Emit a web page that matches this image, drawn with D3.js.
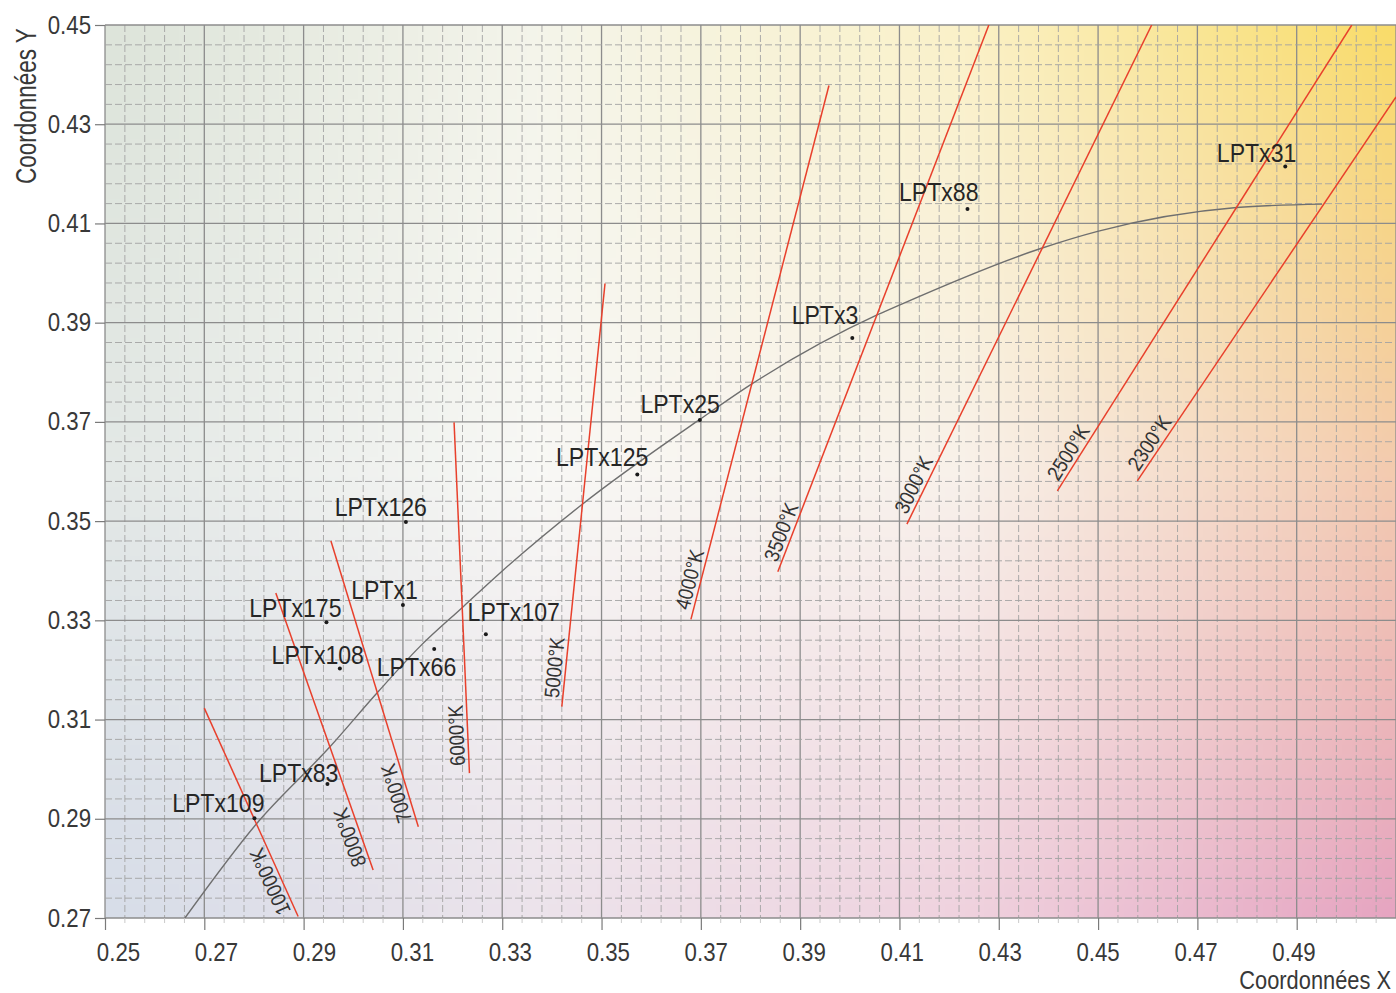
<!DOCTYPE html>
<html>
<head>
<meta charset="utf-8">
<script src="https://cdn.jsdelivr.net/npm/d3@7"></script>
<style>
  body { margin: 0; background: #fff; }
  svg { display: block; font-family: "Liberation Sans", Arial, sans-serif; }
</style>
</head>
<body>
<div class="chart"></div>
<script>
// Planckian locus
const locusX = [0.2661, 0.2806, 0.2953, 0.3050, 0.3134, 0.3222, 0.3295, 0.3460, 0.3698, 0.3802, 0.4056, 0.4101, 0.4383, 0.4499, 0.4779, 0.4951];
const locusY = [0.2700, 0.2891, 0.3045, 0.3156, 0.3247, 0.3328, 0.3395, 0.3533, 0.3705, 0.3776, 0.3916, 0.3936, 0.4049, 0.4084, 0.4132, 0.4139];

// iso-temperature lines (bottom end -> top end)
const isoLabels = ['10000°K', '8000°K', '7000°K', '6000°K', '5000°K', '4000°K', '3500°K', '3000°K', '2500°K', '2300°K'];
const isoBottomX = [0.2889, 0.3040, 0.3131, 0.3234, 0.3420, 0.3680, 0.3855, 0.4115, 0.4418, 0.4579];
const isoBottomY = [0.2703, 0.2797, 0.2884, 0.2992, 0.3126, 0.3302, 0.3398, 0.3494, 0.3561, 0.3581];
const isoTopX = [0.2700, 0.2844, 0.2955, 0.3203, 0.3507, 0.3958, 0.4280, 0.4608, 0.5011, 0.5100];
const isoTopY = [0.3123, 0.3355, 0.3460, 0.3699, 0.3979, 0.4378, 0.4500, 0.4500, 0.4500, 0.4355];

// measured lamps
const lampNames = ['LPTx31', 'LPTx88', 'LPTx3', 'LPTx25', 'LPTx125', 'LPTx126', 'LPTx1', 'LPTx175', 'LPTx108', 'LPTx66', 'LPTx107', 'LPTx83', 'LPTx109'];
const lampX = [0.4877, 0.4237, 0.4005, 0.3698, 0.3572, 0.3106, 0.3100, 0.2946, 0.2973, 0.3163, 0.3267, 0.2948, 0.2801];
const lampY = [0.4215, 0.4129, 0.3869, 0.3704, 0.3594, 0.3498, 0.3331, 0.3296, 0.3203, 0.3242, 0.3272, 0.2970, 0.2901];

// axis ticks
const xTicks = [0.25, 0.27, 0.29, 0.31, 0.33, 0.35, 0.37, 0.39, 0.41, 0.43, 0.45, 0.47, 0.49];
const yTicks = [0.27, 0.29, 0.31, 0.33, 0.35, 0.37, 0.39, 0.41, 0.43, 0.45];

// where each lamp label sits relative to its dot (text end, baseline), px
const labelOffset = {
  LPTx31: [11, -4], LPTx88: [11, -8], LPTx3: [6, -14], LPTx25: [20, -7],
  LPTx125: [11, -8], LPTx126: [21, -6], LPTx1: [15, -6], LPTx175: [15, -5],
  LPTx108: [24, -4], LPTx66: [22, 27], LPTx107: [74, -13], LPTx83: [11, -2], LPTx109: [10, -6]
};

// background colour field (rows top/middle/bottom, columns left -> right)
const bgRows = [
  ['#dde4da', '#f4f4ea', '#faf1c8', '#f9dc6a'],
  ['#e3e8e6', '#f8f8f5', '#f8f1ea', '#f3cbb0'],
  ['#d7dde8', '#ece3eb', '#efd2de', '#e6a5c1']
];

const margin = { top: 25, right: 0, bottom: 75, left: 105 };
const width = 1396 - margin.left - margin.right;
const height = 993 - margin.top - margin.bottom;

const svg = d3.select('.chart').append('svg')
  .attr('width', width + margin.left + margin.right)
  .attr('height', height + margin.top + margin.bottom);

const group = svg.append('g')
  .attr('transform', 'translate(' + margin.left + ',' + margin.top + ')');

const xScale = d3.scaleLinear().domain([0.25, 0.51]).range([0, width]);
const yScale = d3.scaleLinear().domain([0.27, 0.45]).range([height, 0]);

// background gradient, painted on a small canvas and stretched
(function () {
  const cw = 130, ch = 90;
  const canvas = document.createElement('canvas');
  canvas.width = cw; canvas.height = ch;
  const ctx = canvas.getContext('2d');
  const img = ctx.createImageData(cw, ch);
  const rows = bgRows.map(r => r.map(c => d3.rgb(c)));
  const nc = rows[0].length - 1, nr = rows.length - 1;
  for (let j = 0; j < ch; j++) {
    const v = j / (ch - 1) * nr;
    const r0 = Math.min(Math.floor(v), nr - 1), tv = v - r0;
    for (let i = 0; i < cw; i++) {
      const u = i / (cw - 1) * nc;
      const c0 = Math.min(Math.floor(u), nc - 1), tu = u - c0;
      const a = rows[r0][c0], b = rows[r0][c0 + 1], c = rows[r0 + 1][c0], d = rows[r0 + 1][c0 + 1];
      const k = (j * cw + i) * 4;
      ['r', 'g', 'b'].forEach((key, n) => {
        const top = a[key] * (1 - tu) + b[key] * tu;
        const bot = c[key] * (1 - tu) + d[key] * tu;
        img.data[k + n] = top * (1 - tv) + bot * tv;
      });
      img.data[k + 3] = 255;
    }
  }
  ctx.putImageData(img, 0, 0);
  group.append('image')
    .attr('href', canvas.toDataURL())
    .attr('width', width).attr('height', height)
    .attr('preserveAspectRatio', 'none');
})();

// grid: dashed every 0.004, solid every 0.02
const xGrid = d3.range(66).map(i => 0.25 + i * 0.004);
const yGrid = d3.range(46).map(i => 0.27 + i * 0.004);

group.append('g').selectAll('line').data(xGrid).join('line')
  .attr('x1', d => xScale(d)).attr('x2', d => xScale(d))
  .attr('y1', 0).attr('y2', height)
  .attr('stroke', (d, i) => i % 5 === 0 ? '#8c8c8c' : '#a3a3a3')
  .attr('stroke-width', (d, i) => i % 5 === 0 ? 1.3 : 0.9)
  .attr('stroke-dasharray', (d, i) => i % 5 === 0 ? null : '7,3');

group.append('g').selectAll('line').data(yGrid).join('line')
  .attr('y1', d => yScale(d)).attr('y2', d => yScale(d))
  .attr('x1', 0).attr('x2', width)
  .attr('stroke', (d, i) => i % 5 === 0 ? '#8c8c8c' : '#a3a3a3')
  .attr('stroke-width', (d, i) => i % 5 === 0 ? 1.3 : 0.9)
  .attr('stroke-dasharray', (d, i) => i % 5 === 0 ? null : '7,3');

// small minor ticks under the x axis
group.append('g').selectAll('line').data(xGrid.filter((d, i) => i % 5 !== 0)).join('line')
  .attr('x1', d => xScale(d)).attr('x2', d => xScale(d))
  .attr('y1', height).attr('y2', height + 5)
  .attr('stroke', '#c4c4c4').attr('stroke-width', 0.9);

// axes
const xAxis = d3.axisBottom(xScale).tickValues(xTicks).tickFormat(d3.format('.2f'))
  .tickSize(12).tickPadding(13);
const xAxisGroup = group.append('g').attr('class', 'x-axis axis')
  .attr('transform', 'translate(0,' + height + ')').call(xAxis);

const yAxis = d3.axisLeft(yScale).tickValues(yTicks).tickFormat(d3.format('.2f'))
  .tickSize(10).tickPadding(4);
const yAxisGroup = group.append('g').attr('class', 'y-axis axis').call(yAxis);

[xAxisGroup, yAxisGroup].forEach(g => {
  g.select('.domain').remove();
  g.selectAll('.tick line').attr('stroke', '#7a7a7a').attr('stroke-width', 1.2);
  g.selectAll('.tick text').attr('font-size', 25).attr('fill', '#383838')
    .attr('font-family', '"Liberation Sans", Arial, sans-serif');
});
// labels in the original drift slightly left of their ticks toward the right end
xAxisGroup.selectAll('.tick text')
  .attr('transform', (d, i) => 'translate(' + (13 - i * 1.35) + ',0) scale(0.89,1)');
yAxisGroup.selectAll('.tick text')
  .attr('x', -14 / 0.89).attr('transform', 'scale(0.89,1)');

// axis titles
svg.append('text')
  .attr('transform', 'translate(1391,989) scale(0.84,1)')
  .attr('text-anchor', 'end').attr('font-size', 26).attr('fill', '#383838')
  .text('Coordonnées X');

svg.append('text')
  .attr('transform', 'translate(36,184) rotate(-90) scale(0.75,1)')
  .attr('text-anchor', 'start').attr('font-size', 30).attr('fill', '#383838')
  .text('Coordonnées Y');

// clip for the lines
svg.append('defs').append('clipPath').attr('id', 'plot-clip')
  .append('rect').attr('width', width).attr('height', height);

const plot = group.append('g').attr('clip-path', 'url(#plot-clip)');

// Planckian locus
const locus = locusX.map((x, i) => ({ x, y: locusY[i] }));
plot.append('path').datum(locus)
  .attr('d', d3.line().x(d => xScale(d.x)).y(d => yScale(d.y)).curve(d3.curveMonotoneX))
  .attr('fill', 'none').attr('stroke', '#6f6f6f').attr('stroke-width', 1.4);

// iso-temperature lines
const iso = isoLabels.map((label, i) => ({
  label, x1: isoBottomX[i], y1: isoBottomY[i], x2: isoTopX[i], y2: isoTopY[i]
}));

plot.selectAll('.iso').data(iso).join('line').attr('class', 'iso')
  .attr('x1', d => xScale(d.x1)).attr('y1', d => yScale(d.y1))
  .attr('x2', d => xScale(d.x2)).attr('y2', d => yScale(d.y2))
  .attr('stroke', '#e8402c').attr('stroke-width', 1.5);

group.selectAll('.iso-label').data(iso).join('text').attr('class', 'iso-label')
  .attr('transform', d => {
    const px = xScale(d.x1), py = yScale(d.y1);
    const a = Math.atan2(yScale(d.y2) - py, xScale(d.x2) - px) * 180 / Math.PI;
    return 'translate(' + px + ',' + py + ') rotate(' + a + ') scale(0.88,1)';
  })
  .attr('x', 9).attr('y', -4)
  .attr('font-size', 21).attr('fill', '#333')
  .text(d => d.label);

// lamps
const lamps = lampNames.map((name, i) => ({ name, x: lampX[i], y: lampY[i] }));

group.selectAll('.lamp').data(lamps).join('circle').attr('class', 'lamp')
  .attr('cx', d => xScale(d.x)).attr('cy', d => yScale(d.y))
  .attr('r', 2).attr('fill', '#1a1a1a');

group.selectAll('.lamp-label').data(lamps).join('text').attr('class', 'lamp-label')
  .attr('transform', d => 'translate(' + (xScale(d.x) + labelOffset[d.name][0]) + ',' +
    (yScale(d.y) + labelOffset[d.name][1]) + ') scale(0.87,1)')
  .attr('text-anchor', 'end')
  .attr('font-size', 26.5).attr('fill', '#262626')
  .text(d => d.name);
</script>
</body>
</html>
